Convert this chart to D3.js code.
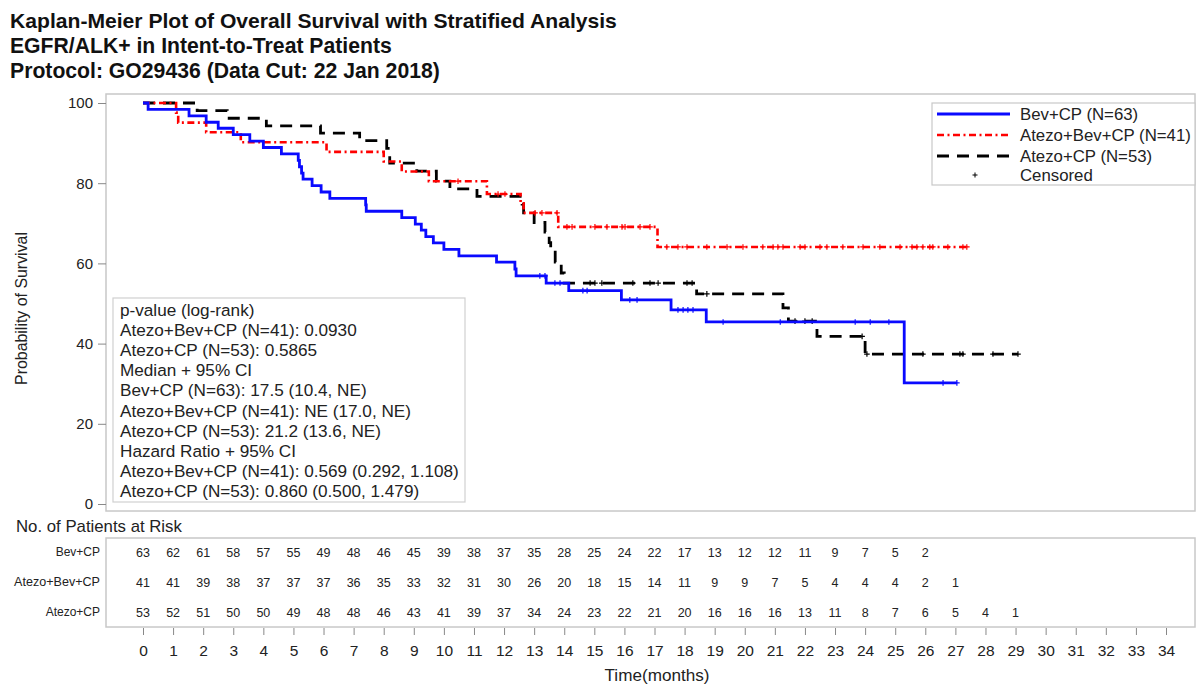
<!DOCTYPE html>
<html><head><meta charset="utf-8">
<script src="https://cdn.jsdelivr.net/npm/d3@7"></script>
<style>body{margin:0;background:#fff;overflow:hidden} text{font-family:"Liberation Sans",Arial,sans-serif}</style>
</head><body><svg id="c" width="1197" height="686"></svg>
<script>
// ---------------- DATA ----------------
const titleLines = [
  "Kaplan-Meier Plot of Overall Survival with Stratified Analysis",
  "EGFR/ALK+ in Intent-to-Treat Patients",
  "Protocol: GO29436 (Data Cut: 22 Jan 2018)"
];
const monthTicks = d3.range(0, 35);
const yTicks = [0, 20, 40, 60, 80, 100];
const armNames = ["Bev+CP", "Atezo+Bev+CP", "Atezo+CP"];
const legendLabels = ["Bev+CP (N=63)", "Atezo+Bev+CP (N=41)", "Atezo+CP (N=53)", "Censored"];

const bevTime = [0,0.17,1.53,2.1,2.5,3.0,3.55,4.0,4.6,5.16,5.2,5.27,5.32,5.62,5.92,6.21,7.4,7.42,8.6,9.05,9.25,9.4,9.65,10.0,10.5,11.75,12.36,12.4,13.4,14.15,15.9,17.55,18.72,25.3];
const bevSurv = [100,98.4,96.8,95.2,93.7,92.1,90.5,88.9,87.3,85.7,84.1,82.5,81.0,79.4,77.8,76.2,74.6,73.0,71.4,69.8,68.3,66.7,65.1,63.5,61.9,60.3,58.6,56.9,55.1,53.2,50.9,48.4,45.4,30.2];
const bevCensor = [13.19,13.36,13.69,13.86,14.62,14.76,16.18,16.42,17.78,17.95,18.11,18.28,19.28,21.18,23.67,24.17,24.79,26.59,27.05];
const bevEnd = 27.05;

const abcTime = [0,1.1,1.17,2.1,3.25,6.1,8.0,8.6,9.5,11.43,12.55,12.65,13.8,17.1];
const abcSurv = [100,97.6,95.1,92.7,90.2,87.8,85.4,82.9,80.5,77.3,75.0,72.6,69.1,64.1];
const abcCensor = [10.47,11.80,12.03,13.03,13.26,13.76,14.09,14.26,15.02,15.42,15.92,16.02,16.52,16.85,17.41,17.78,18.08,18.74,19.41,19.94,20.60,20.94,21.10,21.27,21.84,22.0,22.5,22.73,23.26,23.93,24.49,25.16,25.56,25.72,25.92,26.15,26.25,26.75,27.25,27.38];
const abcEnd = 27.38;

const acTime = [0,1.8,2.8,4.1,5.9,7.2,8.1,8.15,8.2,9.1,9.75,10.2,11.1,12.6,12.65,13.0,13.36,13.5,13.55,13.7,13.9,14.0,18.4,21.27,21.45,22.4,24.0];
const acSurv = [100,98.1,96.2,94.3,92.5,90.6,88.7,86.8,85.0,83.0,80.5,78.6,76.7,74.8,72.6,70.2,67.8,65.2,62.8,60.3,57.6,55.1,52.4,48.9,45.6,41.8,37.4];
const acCensor = [14.86,15.02,15.25,16.28,16.85,17.12,18.08,18.25,18.74,21.67,22.0,22.24,23.9,24.06,25.92,27.15,27.25,28.25,29.08];
const acEnd = 29.08;

const bevRisk = [63,62,61,58,57,55,49,48,46,45,39,38,37,35,28,25,24,22,17,13,12,12,11,9,7,5,2];
const abcRisk = [41,41,39,38,37,37,37,36,35,33,32,31,30,26,20,18,15,14,11,9,9,7,5,4,4,4,2,1];
const acRisk  = [53,52,51,50,50,49,48,48,46,43,41,39,37,34,24,23,22,21,20,16,16,16,13,11,8,7,6,5,4,1];

const statsLines = [
  "p-value (log-rank)",
  "Atezo+Bev+CP (N=41): 0.0930",
  "Atezo+CP (N=53): 0.5865",
  "Median + 95% CI",
  "Bev+CP (N=63): 17.5 (10.4, NE)",
  "Atezo+Bev+CP (N=41): NE (17.0, NE)",
  "Atezo+CP (N=53): 21.2 (13.6, NE)",
  "Hazard Ratio + 95% CI",
  "Atezo+Bev+CP (N=41): 0.569 (0.292, 1.108)",
  "Atezo+CP (N=53): 0.860 (0.500, 1.479)"
];

// ---------------- LAYOUT ----------------
const svg = d3.select("#c");
const frame = {l: 106, r: 1195, t: 94, b: 511};
const table = {t: 538, b: 627};
const x = d3.scaleLinear().domain([0, 34]).range([143, 1166]);
const y = d3.scaleLinear().domain([0, 100]).range([504, 103]);
const boxColor = "#c8c8c8";
const txtColor = "#222";

function fit(sel, target) {
  const w = sel.node().getComputedTextLength();
  const fs = parseFloat(sel.attr("font-size"));
  sel.attr("font-size", fs * target / w);
  return fs * target / w;
}

// titles
const titleBase = [28, 53, 78];
const titleW = [607, 382, 430];
titleLines.forEach((t, i) => {
  const s = svg.append("text").attr("x", 10).attr("y", titleBase[i])
    .attr("font-size", 18).attr("font-weight", "bold").attr("fill", "#111").text(t);
  fit(s, titleW[i]);
});

// plot frame
svg.append("rect").attr("x", frame.l).attr("y", frame.t)
  .attr("width", frame.r - frame.l).attr("height", frame.b - frame.t)
  .attr("fill", "none").attr("stroke", boxColor).attr("stroke-width", 1.5);

// y axis
const yAxis = d3.axisLeft(y).tickValues(yTicks).tickSize(8).tickPadding(5);
const yg = svg.append("g").attr("transform", `translate(${frame.l},0)`).call(yAxis);
yg.select(".domain").remove();
yg.selectAll("line").attr("stroke", "#888");
yg.selectAll("text").attr("font-size", 15).attr("fill", txtColor)
  .attr("font-family", '"Liberation Sans",Arial,sans-serif');
const yTitle = svg.append("text").attr("transform", `translate(27,${y(50) + 5}) rotate(-90)`)
  .attr("text-anchor", "middle").attr("font-size", 13).attr("fill", txtColor)
  .text("Probability of Survival");
fit(yTitle, 153);

// stats box
const stats = svg.append("g");
stats.append("rect").attr("x", 113).attr("y", 298).attr("width", 352).attr("height", 204)
  .attr("fill", "#fff").attr("stroke", "#d0d0d0").attr("stroke-width", 1.2);
const statTexts = statsLines.map((t, i) => stats.append("text").attr("x", 120)
  .attr("y", 316 + i * 20.1).attr("font-size", 15).attr("fill", txtColor).text(t));
{
  const w = statTexts[8].node().getComputedTextLength();
  const fs = 15 * 339 / w;
  statTexts.forEach(s => s.attr("font-size", fs));
}

// curves
const arms = [
  {time: bevTime, surv: bevSurv, cens: bevCensor, end: bevEnd, color: "#0a0aff", dash: null, w: 2.8},
  {time: abcTime, surv: abcSurv, cens: abcCensor, end: abcEnd, color: "#ff0000", dash: "7,3.5,2,3.5", w: 2.6},
  {time: acTime, surv: acSurv, cens: acCensor, end: acEnd, color: "#000000", dash: "12,8", w: 2.8}
];
const line = d3.line().x(d => x(d[0])).y(d => y(d[1])).curve(d3.curveStepAfter);
function survAt(a, t) {
  let s = a.surv[0];
  for (let i = 0; i < a.time.length; i++) if (a.time[i] <= t) s = a.surv[i];
  return s;
}
function plus(px, py, r) { return `M${px - r},${py}h${2 * r}M${px},${py - r}v${2 * r}`; }

arms.slice().reverse().forEach(a => {
  const pts = a.time.map((t, i) => [t, a.surv[i]]);
  pts.push([a.end, a.surv[a.surv.length - 1]]);
  svg.append("path").attr("d", line(pts)).attr("fill", "none")
    .attr("stroke", a.color).attr("stroke-width", a.w)
    .attr("stroke-dasharray", a.dash);
  svg.append("path").attr("d", a.cens.map(t => plus(x(t), y(survAt(a, t)), 2.8)).join(""))
    .attr("fill", "none").attr("stroke", a.color).attr("stroke-width", 1.2);
});

// legend
const lg = svg.append("g");
lg.append("rect").attr("x", 932).attr("y", 103).attr("width", 263).attr("height", 82)
  .attr("fill", "#fff").attr("stroke", "#c8c8c8").attr("stroke-width", 1.2);
const legY = [114, 135, 156, 175];
arms.forEach((a, i) => {
  lg.append("line").attr("x1", 937).attr("x2", 1010).attr("y1", legY[i]).attr("y2", legY[i])
    .attr("stroke", a.color).attr("stroke-width", a.w).attr("stroke-dasharray", a.dash);
});
lg.append("path").attr("d", plus(975, legY[3], 2.5)).attr("stroke", "#000").attr("stroke-width", 1);
const legTexts = legendLabels.map((t, i) => lg.append("text").attr("x", 1020)
  .attr("y", legY[i] + 5.5).attr("font-size", 15).attr("fill", txtColor).text(t));
{
  const fs = fit(legTexts[1], 171);
  legTexts.forEach(s => s.attr("font-size", fs));
}

// at-risk table
const nrisk = svg.append("text").attr("x", 16).attr("y", 532).attr("font-size", 14.5)
  .attr("fill", txtColor).text("No. of Patients at Risk");
fit(nrisk, 166);
svg.append("rect").attr("x", frame.l).attr("y", table.t)
  .attr("width", frame.r - frame.l).attr("height", table.b - table.t)
  .attr("fill", "none").attr("stroke", boxColor).attr("stroke-width", 1.5);
const riskRows = [bevRisk, abcRisk, acRisk];
const rowY = [552, 582, 612];
let labelFs = null;
riskRows.forEach((row, r) => {
  const lab = svg.append("text").attr("x", 100).attr("y", rowY[r] + 4).attr("text-anchor", "end")
    .attr("font-size", 12).attr("fill", txtColor).text(armNames[r]);
  if (r === 1) labelFs = fit(lab, 86);
  svg.append("g").selectAll("text").data(row).join("text")
    .attr("x", (d, i) => x(monthTicks[i])).attr("y", rowY[r] + 4.5)
    .attr("text-anchor", "middle").attr("font-size", 12.5).attr("fill", txtColor)
    .text(d => d);
});

// x axis
const xAxis = d3.axisBottom(x).tickValues(monthTicks).tickSize(7).tickPadding(10);
const xg = svg.append("g").attr("transform", `translate(0,${table.b + 1})`).call(xAxis);
xg.select(".domain").remove();
xg.selectAll("line").attr("stroke", "#888");
xg.selectAll("text").attr("font-size", 15.5).attr("fill", txtColor)
  .attr("font-family", '"Liberation Sans",Arial,sans-serif');
const xTitle = svg.append("text").attr("x", 657).attr("y", 681).attr("text-anchor", "middle")
  .attr("font-size", 14).attr("fill", txtColor).text("Time(months)");
fit(xTitle, 105);
</script>
</body></html>
